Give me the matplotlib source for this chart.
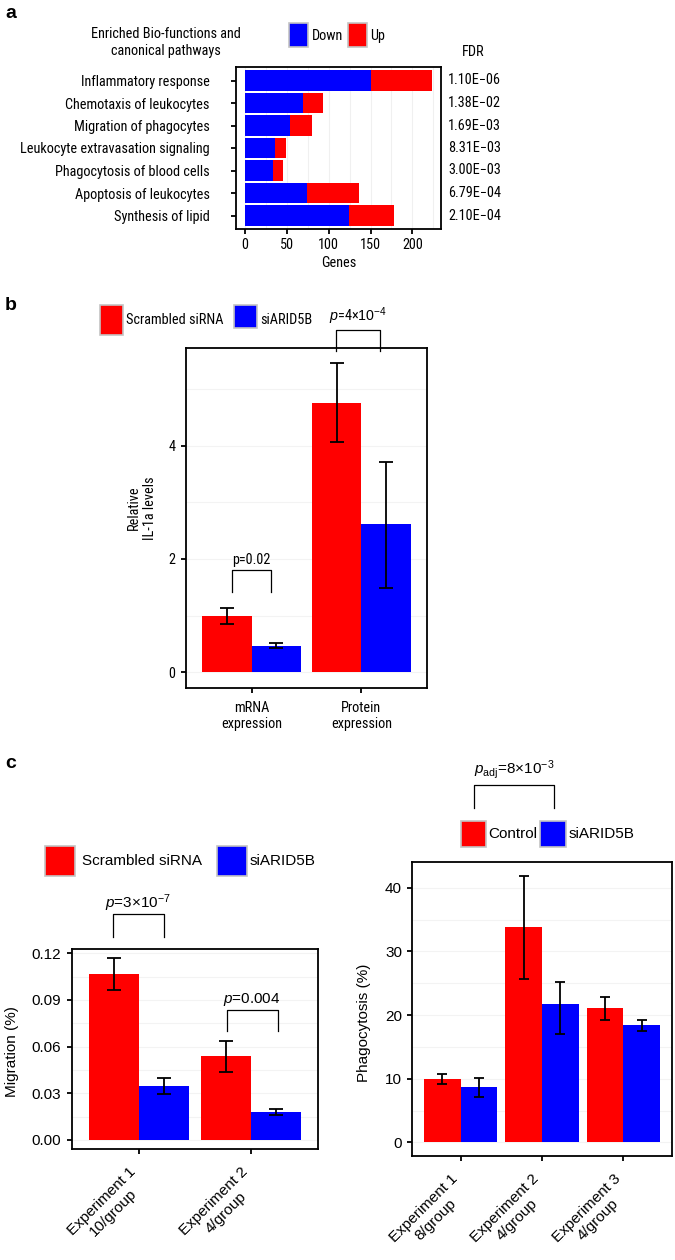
import os
import matplotlib
matplotlib.use("Agg")
import matplotlib.pyplot as plt
import numpy as np
from matplotlib import font_manager
from matplotlib.font_manager import FontProperties
from matplotlib.patches import Rectangle
from matplotlib.transforms import offset_copy

# panel a: enriched pathways
pathways = ['Inflammatory response', 'Chemotaxis of leukocytes', 'Migration of phagocytes',
            'Leukocyte extravasation signaling', 'Phagocytosis of blood cells',
            'Apoptosis of leukocytes', 'Synthesis of lipid']
genes_down = [150, 70, 54, 36, 34, 74, 124]
genes_up = [73, 23, 26, 13, 11, 62, 54]
fdr = ['1.10E\u221206', '1.38E\u221202', '1.69E\u221203', '8.31E\u221203',
       '3.00E\u221203', '6.79E\u221204', '2.10E\u221204']

# panel b: IL-1a levels
il1a_groups = ['mRNA\nexpression', 'Protein\nexpression']
il1a_scr = [1.0, 4.76]
il1a_scr_lo = [0.86, 4.06]
il1a_scr_hi = [1.13, 5.46]
il1a_si = [0.47, 2.61]
il1a_si_lo = [0.42, 1.48]
il1a_si_hi = [0.51, 3.72]

# panel c left: migration
mig_groups = ['Experiment 1\n10/group', 'Experiment 2\n4/group']
mig_scr = [0.1066, 0.0538]
mig_scr_lo = [0.0963, 0.0438]
mig_scr_hi = [0.1168, 0.0636]
mig_si = [0.0346, 0.0177]
mig_si_lo = [0.0297, 0.0160]
mig_si_hi = [0.0395, 0.0197]

# panel c right: phagocytosis
pha_groups = ['Experiment 1\n8/group', 'Experiment 2\n4/group', 'Experiment 3\n4/group']
pha_ctrl = [10.0, 33.8, 21.1]
pha_ctrl_lo = [9.2, 25.7, 19.3]
pha_ctrl_hi = [10.7, 41.9, 22.9]
pha_si = [8.64, 21.8, 18.4]
pha_si_lo = [7.2, 17.0, 17.5]
pha_si_hi = [10.1, 25.2, 19.2]

RED = '#FF0000'
BLUE = '#0000FF'
W, H = 675, 1260
CS = 11  # panel c font size

# panels a and b use a narrow sans in the original; look for one
narrow_path, NS = None, 9.3
files = {os.path.basename(f.fname): f.fname for f in font_manager.fontManager.ttflist}
for fn, size in [('LiberationSansNarrow-Regular.ttf', 10.5), ('NotoSans-Condensed.ttf', 10.0),
                 ('NotoSans-CondensedRegular.ttf', 10.0), ('RobotoCondensed-Regular.ttf', 10.3),
                 ('NotoSans-SemiCondensed.ttf', 9.8)]:
    if fn in files:
        narrow_path, NS = files[fn], size
        break


def nf(size=None):
    size = size or NS
    if narrow_path:
        return FontProperties(fname=narrow_path, size=size)
    return FontProperties(family='Liberation Sans', size=size)


plt.rcParams['font.family'] = ['Liberation Sans', 'DejaVu Sans']
plt.rcParams['mathtext.fontset'] = 'custom'
plt.rcParams['mathtext.rm'] = 'Liberation Sans'
plt.rcParams['mathtext.it'] = 'Liberation Sans:italic'
plt.rcParams['mathtext.bf'] = 'Liberation Sans:bold'

fig = plt.figure(figsize=(6.75, 12.6), dpi=100)


def ftext(px, py, s, **kw):
    fig.text(px / W, 1 - py / H, s, **kw)


def key(px, py, w, h, color):
    fig.add_artist(Rectangle((px / W, 1 - (py + h) / H), w / W, h / H, transform=fig.transFigure,
                             facecolor=color, edgecolor='#c4c4c4', linewidth=1.2))


def style(ax, fp, pad):
    for s in ax.spines.values():
        s.set_linewidth(1.3)
        s.set_color('black')
    ax.tick_params(length=3.5, width=1.3, color='black', pad=pad)
    for lab in ax.get_xticklabels() + ax.get_yticklabels():
        lab.set_fontproperties(fp)
    ax.set_axisbelow(True)


def bars(ax, x, a, alo, ahi, b, blo, bhi, cap):
    bw = 0.45
    a, b = np.array(a), np.array(b)
    ax.bar(x - bw / 2, a, bw, color=RED, zorder=2)
    ax.bar(x + bw / 2, b, bw, color=BLUE, zorder=2)
    ax.errorbar(x - bw / 2, a, yerr=[a - np.array(alo), np.array(ahi) - a], fmt='none',
                ecolor='black', elinewidth=1.3, capsize=cap, capthick=1.3, zorder=3)
    ax.errorbar(x + bw / 2, b, yerr=[b - np.array(blo), np.array(bhi) - b], fmt='none',
                ecolor='black', elinewidth=1.3, capsize=cap, capthick=1.3, zorder=3)


def bracket(ax, x0, x1, ytop, ybot, label, ylab, **kw):
    ax.plot([x0, x0, x1, x1], [ybot, ytop, ytop, ybot], color='black', lw=0.9, clip_on=False)
    ax.text((x0 + x1) / 2, ylab, label, ha='center', va='baseline', clip_on=False, **kw)


def slanted_labels(ax, xs, labels):
    ax.set_xticks(xs, [''] * len(xs))
    tr = offset_copy(ax.get_xaxis_transform(), fig=fig, x=-10, y=-16, units='dots')
    for xi, lab in zip(xs, labels):
        ax.text(xi, 0, lab, transform=tr, rotation=45, rotation_mode='anchor', ha='right',
                va='top', multialignment='center', fontsize=CS, clip_on=False)


# ---------------- panel a ----------------
ax_a = fig.add_axes([235.5 / W, 1 - 229 / H, 205.5 / W, 162 / H])
ya = np.arange(len(pathways))
for v in np.arange(0, 230, 25):
    ax_a.axvline(v, color='#f0f0f0', lw=0.8, zorder=0)
ax_a.barh(ya, genes_down, height=0.9, color=BLUE, zorder=2)
ax_a.barh(ya, genes_up, left=genes_down, height=0.9, color=RED, zorder=2)
ax_a.set_xlim(-11.15, 234.15)
ax_a.set_ylim(6.6, -0.6)
ax_a.set_xticks([0, 50, 100, 150, 200])
ax_a.set_yticks(ya, pathways)
ax_a.set_xlabel('Genes', fontproperties=nf(), labelpad=3)
style(ax_a, nf(), 3)
ax_a.tick_params(axis='y', pad=15)
for i, f in enumerate(fdr):
    ax_a.text(1.034, i, f, transform=ax_a.get_yaxis_transform(), ha='left', va='center',
              fontproperties=nf())

ftext(5, 13, 'a', fontsize=14, fontweight='bold', va='center')
ftext(166, 42.5, 'Enriched Bio-functions and\ncanonical pathways', ha='center', va='center',
      ma='center', fontproperties=nf(), linespacing=1.3)
key(288.5, 23, 19, 24, BLUE)
ftext(312, 36, 'Down', va='center', fontproperties=nf())
key(348, 23, 19, 24, RED)
ftext(370, 36, 'Up', va='center', fontproperties=nf())
ftext(473, 52, 'FDR', ha='center', va='center', fontproperties=nf())

# ---------------- panel b ----------------
ax_b = fig.add_axes([185.7 / W, 1 - 687.7 / H, 241.6 / W, 340 / H])
xb = np.arange(1, len(il1a_groups) + 1)
for v in np.arange(0, 6, 1):
    ax_b.axhline(v, color='#f3f3f3', lw=0.8, zorder=0)
bars(ax_b, xb, il1a_scr, il1a_scr_lo, il1a_scr_hi, il1a_si, il1a_si_lo, il1a_si_hi, 4.7)
ax_b.set_xlim(0.4, 2.6)
ax_b.set_ylim(-0.273, 5.73)
ax_b.set_yticks([0, 2, 4])
ax_b.set_xticks(xb, il1a_groups)
style(ax_b, nf(), 4)
ax_b.tick_params(axis='x', pad=6)
bracket(ax_b, 0.82, 1.18, 1.80, 1.41, 'p=0.02', 1.915, fontproperties=nf())
bracket(ax_b, 1.772, 2.173, 6.04, 5.67, r'$p$=4×$10^{-4}$', 6.20, fontproperties=nf())

ftext(5, 306, 'b', fontsize=14, fontweight='bold', va='center')
ftext(142, 508, 'Relative\nIL-1a levels', rotation=90, ha='center', va='center', ma='center',
      fontproperties=nf())
key(100, 305, 23, 30, RED)
ftext(126, 320, 'Scrambled siRNA', va='center', fontproperties=nf())
key(234, 305, 23, 23, BLUE)
ftext(260, 320, 'siARID5B', va='center', fontproperties=nf())

# ---------------- panel c left ----------------
ax_m = fig.add_axes([71.7 / W, 1 - 1149 / H, 246.6 / W, 199.7 / H])
xm = np.arange(1, len(mig_groups) + 1)
for v in np.arange(0, 0.121, 0.015):
    ax_m.axhline(v, color='#f3f3f3', lw=0.8, zorder=0)
bars(ax_m, xm, mig_scr, mig_scr_lo, mig_scr_hi, mig_si, mig_si_lo, mig_si_hi, 4.7)
ax_m.set_xlim(0.4, 2.6)
ax_m.set_ylim(-0.00585, 0.1226)
ax_m.set_yticks([0, 0.03, 0.06, 0.09, 0.12], ['0.00', '0.03', '0.06', '0.09', '0.12'])
slanted_labels(ax_m, xm, mig_groups)
style(ax_m, FontProperties(family='Liberation Sans', size=CS), 4.5)
ftext(12, 1051.7, 'Migration (%)', rotation=90, ha='center', va='center', fontsize=CS)
bracket(ax_m, 1 - 0.232, 1 + 0.219, 0.145, 0.1306, r'$p$=3×$10^{-7}$', 0.149, fontsize=CS)
bracket(ax_m, 2 - 0.217, 2 + 0.237, 0.0837, 0.0702, r'$p$=0.004', 0.0882, fontsize=CS)

ftext(5, 764, 'c', fontsize=14, fontweight='bold', va='center')
key(45, 846, 30, 30, RED)
ftext(82, 861, 'Scrambled siRNA', va='center', fontsize=CS)
key(217, 846, 30, 30, BLUE)
ftext(250, 861, 'siARID5B', va='center', fontsize=CS)

# ---------------- panel c right ----------------
ax_p = fig.add_axes([411.7 / W, 1 - 1155.7 / H, 260.6 / W, 293.4 / H])
xp = np.arange(1, len(pha_groups) + 1)
for v in np.arange(0, 41, 5):
    ax_p.axhline(v, color='#f3f3f3', lw=0.8, zorder=0)
bars(ax_p, xp, pha_ctrl, pha_ctrl_lo, pha_ctrl_hi, pha_si, pha_si_lo, pha_si_hi, 3.8)
ax_p.set_xlim(0.4, 3.6)
ax_p.set_ylim(-2.1, 44.0)
ax_p.set_yticks([0, 10, 20, 30, 40])
slanted_labels(ax_p, xp, pha_groups)
style(ax_p, FontProperties(family='Liberation Sans', size=CS), 3.5)
ftext(364, 1023, 'Phagocytosis (%)', rotation=90, ha='center', va='center', fontsize=CS)
bracket(ax_p, 1.167, 2.146, 56.07, 52.6, r'$p_{\mathrm{adj}}$=8×$10^{-3}$', 58.0, fontsize=CS)

key(461, 821, 25, 26, RED)
ftext(488, 834, 'Control', va='center', fontsize=CS)
key(540, 821, 25.5, 26, BLUE)
ftext(569, 834, 'siARID5B', va='center', fontsize=CS)

fig.savefig('out.png', dpi=100)
